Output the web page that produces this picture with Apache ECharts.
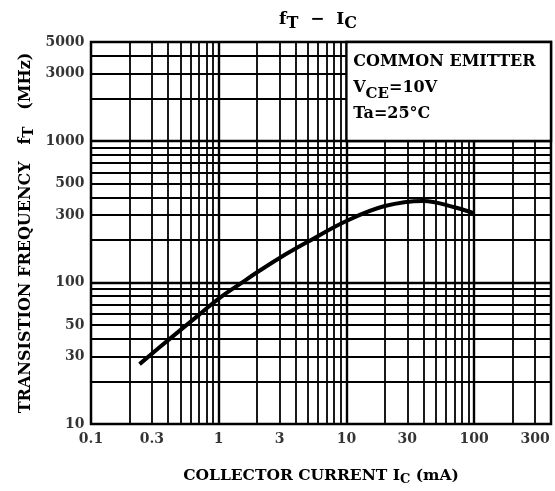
<!DOCTYPE html>
<html>
<head>
<meta charset="utf-8">
<script src="https://cdn.jsdelivr.net/npm/echarts@6/dist/echarts.min.js"></script>
<style>
  html, body { margin: 0; padding: 0; background: #fff; }
  #chart { width: 555px; height: 491px; }
</style>
</head>
<body>
<div id="chart"></div>
<script>
// fT - IC curve
const icValues = [0.24, 0.4, 0.7, 1, 1.5, 2, 3, 5, 10, 20, 40, 70, 100];
const ftValues = [26.5, 39, 59, 77, 99, 118, 149, 194, 272, 347, 377, 340, 308];

// tick labels
const xTicks = [0.1, 0.3, 1, 3, 10, 30, 100, 300];
const yTicks = [10, 30, 50, 100, 300, 500, 1000, 3000, 5000];

// log grid lines
const xGrid = [0.2, 0.3, 0.4, 0.5, 0.6, 0.7, 0.8, 0.9, 1, 2, 3, 4, 5, 6, 7, 8, 9, 10, 20, 30, 40, 50, 60, 70, 80, 90, 100, 200, 300];
const yGrid = [20, 30, 40, 50, 60, 70, 80, 90, 100, 200, 300, 400, 500, 600, 700, 800, 900, 1000, 2000, 3000, 4000];
const xMajor = [1, 10, 100];
const yMajor = [100, 1000];

const font = 'DejaVu Serif';

const chart = echarts.init(document.getElementById('chart'));

const gridLine = (major) => ({ color: '#000', type: 'solid', width: major ? 2.4 : 1.8 });

const option = {
    backgroundColor: '#fff',
    animation: false,
    title: {
        text: '{a|f}{s|T}{a|  −  I}{s|C}',
        left: 313,
        top: 4,
        textAlign: 'center',
        textStyle: {
            rich: {
                a: { fontFamily: font, fontWeight: 'bold', fontSize: 17, color: '#000', lineHeight: 22 },
                s: { fontFamily: font, fontWeight: 'bold', fontSize: 16, color: '#000', lineHeight: 14, padding: [8, 0, 0, 0] },
            },
        },
    },
    grid: {
        left: 91,
        right: 4,
        top: 42,
        bottom: 67,
        show: true,
        borderColor: '#000',
        borderWidth: 2.5,
        outerBoundsMode: 'none',
    },
    xAxis: {
        type: 'log',
        logBase: 10,
        min: 0.1,
        max: 400,
        axisLine: { show: false },
        axisTick: { show: false },
        axisLabel: { show: false },
        splitLine: { show: false },
        name: '{a|COLLECTOR CURRENT I}{s|C}{a| (mA)}',
        nameLocation: 'middle',
        nameGap: 42,
        nameTextStyle: {
            rich: {
                a: { fontFamily: font, fontWeight: 'bold', fontSize: 15.5, color: '#000', lineHeight: 20 },
                s: { fontFamily: font, fontWeight: 'bold', fontSize: 13, color: '#000', lineHeight: 13, padding: [7, 0, 0, 0] },
            },
        },
    },
    yAxis: {
        type: 'log',
        logBase: 10,
        min: 10,
        max: 5000,
        axisLine: { show: false },
        axisTick: { show: false },
        axisLabel: { show: false },
        splitLine: { show: false },
        name: '{a|TRANSISTION FREQUENCY   f}{s|T}{a|   (MHz)}',
        nameLocation: 'middle',
        nameRotate: 90,
        nameGap: 55,
        nameTextStyle: {
            rich: {
                a: { fontFamily: font, fontWeight: 'bold', fontSize: 16, color: '#000', lineHeight: 20 },
                s: { fontFamily: font, fontWeight: 'bold', fontSize: 15, color: '#000', lineHeight: 14, padding: [6, 0, 0, 0] },
            },
        },
    },
    series: [
        {
            // grid lines
            type: 'line',
            data: [],
            silent: true,
            z: 1,
            markLine: {
                silent: true,
                z: 1,
                symbol: ['none', 'none'],
                label: { show: false },
                lineStyle: gridLine(false),
                data: xGrid.map(v => ({ xAxis: v, lineStyle: gridLine(xMajor.includes(v)) }))
                    .concat(yGrid.map(v => ({ yAxis: v, lineStyle: gridLine(yMajor.includes(v)) }))),
            },
        },
        {
            // condition box
            type: 'line',
            data: [],
            silent: true,
            z: 3,
            markArea: {
                silent: true,
                z: 3,
                itemStyle: { color: '#fff', borderColor: '#000', borderWidth: 2.4 },
                label: {
                    show: true,
                    position: [8, 8],
                    formatter: '{a|COMMON EMITTER}\n{a|V}{s|CE}{a|=10V}\n{a|Ta=25°C}',
                    rich: {
                        a: { fontFamily: font, fontWeight: 'bold', fontSize: 16, color: '#000', lineHeight: 26 },
                        s: { fontFamily: font, fontWeight: 'bold', fontSize: 15, color: '#000', lineHeight: 13, padding: [13, 0, 0, 0] },
                    },
                },
                data: [[{ xAxis: 10, yAxis: 1000 }, { xAxis: 400, yAxis: 5000 }]],
            },
        },
        {
            type: 'line',
            data: icValues.map((x, i) => [x, ftValues[i]]),
            smooth: 0.4,
            symbol: 'none',
            silent: true,
            z: 4,
            lineStyle: { color: '#000', width: 4 },
        },
        {
            // x tick labels
            type: 'scatter',
            data: xTicks.map(v => [v, 10]),
            symbolSize: 1,
            silent: true,
            clip: false,
            z: 5,
            itemStyle: { color: 'rgba(0,0,0,0)' },
            label: {
                show: true,
                position: 'bottom',
                distance: 8,
                formatter: p => String(p.value[0]),
                fontFamily: font,
                fontWeight: 'bold',
                fontSize: 14,
                color: '#000',
            },
        },
        {
            // y tick labels
            type: 'scatter',
            data: yTicks.map(v => [0.1, v]),
            symbolSize: 1,
            silent: true,
            clip: false,
            z: 5,
            itemStyle: { color: 'rgba(0,0,0,0)' },
            label: {
                show: true,
                position: 'left',
                distance: 6,
                formatter: p => String(p.value[1]),
                fontFamily: font,
                fontWeight: 'bold',
                fontSize: 14,
                color: '#000',
            },
        },
    ],
};

chart.setOption(option);
</script>
</body>
</html>
